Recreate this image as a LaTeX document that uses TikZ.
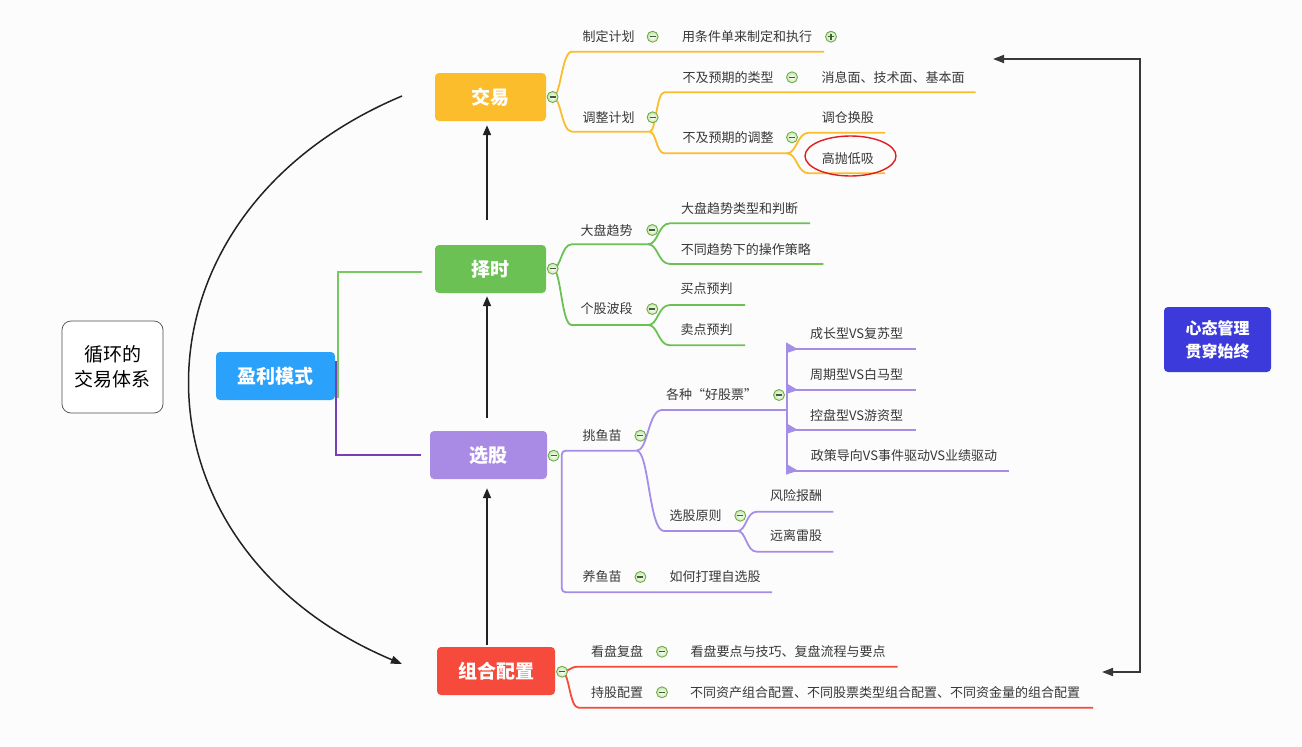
\documentclass[tikz,border=0pt]{standalone}
\usepackage{fontspec}
\setmainfont{Noto Sans CJK SC}
\usetikzlibrary{arrows.meta,calc}
\definecolor{bgc}{RGB}{252,252,252}
\definecolor{cyel}{RGB}{251,189,44}
\definecolor{cgrn}{RGB}{108,193,85}
\definecolor{cpur}{RGB}{169,139,229}
\definecolor{cpurl}{RGB}{165,142,232}
\definecolor{cred}{RGB}{246,75,60}
\definecolor{cblu}{RGB}{42,162,251}
\definecolor{cind}{RGB}{61,58,219}
\definecolor{txt}{RGB}{56,56,56}
\definecolor{togd}{RGB}{104,168,64}
\definecolor{togf}{RGB}{196,230,170}
\definecolor{togl}{RGB}{70,90,60}
\definecolor{linkp}{RGB}{120,62,180}
\definecolor{linkg}{RGB}{118,200,96}
\definecolor{arrc}{RGB}{34,34,34}
\definecolor{ovl}{RGB}{224,30,30}
\begin{document}
\begin{tikzpicture}[x=1pt,y=-1pt,
  mainbox/.style={rounded corners=4pt, inner sep=0pt, text=white,
    font=\fontsize{19pt}{23pt}\selectfont\bfseries},
  leaf/.style={inner sep=0pt, text=txt, font=\fontsize{13pt}{15pt}\selectfont},
  tog/.style={circle, minimum size=11pt, inner sep=0pt, draw=togd, line width=0.8pt,
    inner color=white, outer color=togf,
    path picture={\draw[togl, line width=1.1pt]
      ([xshift=-3pt]path picture bounding box.center) -- ([xshift=3pt]path picture bounding box.center);}},
  togp/.style={tog, path picture={\draw[togl, line width=1.1pt]
      ([xshift=-3pt]path picture bounding box.center) -- ([xshift=3pt]path picture bounding box.center)
      ([yshift=-3pt]path picture bounding box.center) -- ([yshift=3pt]path picture bounding box.center);}},
  br/.style={to path={.. controls ($(\tikztostart)!.45!(\tikztostart -| \tikztotarget)$)
      and ($(\tikztotarget)!.55!(\tikztotarget -| \tikztostart)$) .. (\tikztotarget)}},
  ybr/.style={draw=cyel, line width=1.8pt},
  gbr/.style={draw=cgrn, line width=1.8pt},
  pbr/.style={draw=cpurl, line width=1.8pt},
  rbr/.style={draw=cred, line width=1.8pt},
  marr/.style={draw=arrc, line width=1.8pt, -{Triangle[length=10pt,width=8pt]}},
]
\useasboundingbox (0,0) rectangle (1302,747);
\fill[bgc] (0,0) rectangle (1302,747);

% ---------- branch lines (yellow) ----------
\draw[ybr] (552.6,97) to[br] (572,51.7) -- (824,51.7);
\draw[ybr] (552.6,97) to[br] (572,131.7) -- (649.6,131.7);
\draw[ybr] (649.6,131.7) to[br] (664.4,92.3) -- (975.5,92.3);
\draw[ybr] (649.6,131.7) to[br] (664.4,153.3) -- (787,153.3);
\draw[ybr] (787,153.3) to[br] (809,132.7) -- (885,132.7);
\draw[ybr] (787,153.3) to[br] (809,173.3) -- (885,173.3);

% ---------- branch lines (green) ----------
\draw[gbr] (552.7,268.7) to[br] (571.7,244.3) -- (648.3,244.3);
\draw[gbr] (648.3,244.3) to[br] (670,223.3) -- (810,223.3);
\draw[gbr] (648.3,244.3) to[br] (670,264) -- (823.3,264);
\draw[gbr] (552.7,268.7) to[br] (571.7,325) -- (648.3,325);
\draw[gbr] (648.3,325) to[br] (670,305) -- (745,305);
\draw[gbr] (648.3,325) to[br] (670,345.3) -- (745,345.3);

% ---------- branch lines (purple) ----------
\draw[pbr] (553.6,455.7) -- (558,455.7);
\draw[pbr, rounded corners=4pt] (636.7,450.7) -- (561.7,450.7) -- (561.7,592.3) -- (772,592.3);
\draw[pbr] (636.7,450.7) to[br] (662,410) -- (787.4,410);
\draw[pbr] (636.7,450.7) to[br] (664,531) -- (737.6,531);
\draw[pbr] (737.6,531) to[br] (756.8,511.7) -- (833.3,511.7);
\draw[pbr] (737.6,531) to[br] (756.8,551.7) -- (833.3,551.7);
\draw[pbr] (787,343) -- (787,471.5);
\foreach \yy/\xe in {349.3/915.6, 390/915.6, 430/915.6, 470.7/1009.4}{
  \draw[pbr] (787,\yy) -- (\xe,\yy);
  \fill[cpurl] (786,\yy-7) -- (798,\yy) -- (786,\yy+4) -- cycle;
}

% ---------- branch lines (red) ----------
\draw[rbr] (562,671.7) to[br] (578.5,666.7) -- (897.7,666.7);
\draw[rbr] (562,671.7) to[br] (578.5,707.7) -- (1093,707.7);

% ---------- main nodes ----------
\node[mainbox, fill=cyel, minimum width=111pt, minimum height=48pt] (jiaoyi) at (490.5,97) {交易};
\node[mainbox, fill=cgrn, minimum width=111pt, minimum height=48pt] (zeshi) at (490.5,269) {择时};
\node[mainbox, fill=cpur, minimum width=117pt, minimum height=48pt] (xuangu) at (488.5,455) {选股};
\node[mainbox, fill=cred, minimum width=118pt, minimum height=48pt] (zuhe) at (496,671) {组合配置};
\node[mainbox, fill=cblu, minimum width=119pt, minimum height=48pt] (yingli) at (275.5,376) {盈利模式};
\node[rounded corners=9pt, draw=black!70, line width=0.7pt, fill=white, inner sep=0pt,
  minimum width=101pt, minimum height=92pt, align=center, text=black,
  font=\fontsize{19pt}{25pt}\selectfont] (xunhuan) at (112.5,367) {循环的\\交易体系};
\node[mainbox, fill=cind, minimum width=107pt, minimum height=65pt, align=center,
  font=\fontsize{16pt}{22.7pt}\selectfont\bfseries] (xintai) at (1217.5,339.5) {心态管理\\贯穿始终};

% ---------- toggles ----------
\node[tog] (c1) at (552.6,97) {};
\node[tog] (c2) at (552.7,268.7) {};
\node[tog] (c3) at (553.6,455.7) {};
\node[tog] (c4) at (562,671.7) {};

% ---------- yellow texts ----------
\node[leaf] (t11) at (608.5,36.7) {制定计划};
\node[tog] (c11) at (652.6,36.7) {};
\node[leaf] (t111) at (747,36.7) {用条件单来制定和执行};
\node[togp] (p111) at (831,36.7) {};
\node[leaf] (t12) at (608.5,117.3) {调整计划};
\node[tog] (c12) at (652.6,117.3) {};
\node[leaf] (t121) at (728,77.3) {不及预期的类型};
\node[tog] (c121) at (792,77.3) {};
\node[leaf] (t1211) at (893,77.3) {消息面、技术面、基本面};
\node[leaf] (t122) at (728,137.3) {不及预期的调整};
\node[tog] (c122) at (792,137.3) {};
\node[leaf] (t1221) at (847.8,117.3) {调仓换股};
\node[leaf] (t1222) at (847.8,158.3) {高抛低吸};
\draw[ovl, line width=1.4pt] (t1222.center) ++(2.7,-2.3) ellipse [x radius=45.5pt, y radius=20pt];

% ---------- green texts ----------
\node[leaf] (t21) at (606.7,230) {大盘趋势};
\node[tog] (c21) at (652.3,230) {};
\node[leaf] (t211) at (739.7,208.3) {大盘趋势类型和判断};
\node[leaf] (t212) at (745.8,249.3) {不同趋势下的操作策略};
\node[leaf] (t22) at (606.7,309) {个股波段};
\node[tog] (c22) at (652.3,309) {};
\node[leaf] (t221) at (706.7,289) {买点预判};
\node[leaf] (t222) at (706.7,330) {卖点预判};

% ---------- purple texts ----------
\node[leaf] (t31) at (602,435.7) {挑鱼苗};
\node[tog] (c31) at (640.4,435.7) {};
\node[leaf] (t311) at (711.5,395) {各种“好股票”};
\node[tog] (c311) at (779,395) {};
\node[leaf] (t3111) at (856.6,334) {成长型VS复苏型};
\node[leaf] (t3112) at (856.6,375) {周期型VS白马型};
\node[leaf] (t3113) at (856.6,415.7) {控盘型VS游资型};
\node[leaf] (t3114) at (904,456) {政策导向VS事件驱动VS业绩驱动};
\node[leaf] (t312) at (695.5,515.7) {选股原则};
\node[tog] (c312) at (740.3,515.7) {};
\node[leaf] (t3121) at (796,495.7) {风险报酬};
\node[leaf] (t3122) at (796,536) {远离雷股};
\node[leaf] (t32) at (602,577) {养鱼苗};
\node[tog] (c32) at (640.4,577) {};
\node[leaf] (t321) at (715,577) {如何打理自选股};

% ---------- red texts ----------
\node[leaf] (t41) at (617,651.7) {看盘复盘};
\node[tog] (c41) at (662,651.7) {};
\node[leaf] (t411) at (788,651.7) {看盘要点与技巧、复盘流程与要点};
\node[leaf] (t42) at (617,692.3) {持股配置};
\node[tog] (c42) at (662,692.3) {};
\node[leaf] (t421) at (885,692.3) {不同资产组合配置、不同股票类型组合配置、不同资金量的组合配置};

% ---------- links from 盈利模式 ----------
\coordinate (gEnd) at (422,272);
\coordinate (pEnd) at (421,455);
\draw[linkg, line width=1.5pt] ([shift={(3,-2)}]yingli.south east) |- (gEnd);
\draw[linkp, line width=1.5pt] ([shift={(1,-15)}]yingli.east) |- (pEnd);

% ---------- vertical flow arrows ----------
\coordinate (ax) at (487,0);
\draw[marr, shorten <=25pt, shorten >=4pt] (zeshi.north -| ax) -- (jiaoyi.south -| ax);
\draw[marr, shorten <=13pt, shorten >=3pt] (xuangu.north -| ax) -- (zeshi.south -| ax);
\draw[marr, shorten <=2pt, shorten >=9pt] (zuhe.north -| ax) -- (xuangu.south -| ax);

% ---------- big arc ----------
\coordinate (arcS) at (402,96);
\coordinate (arcE) at (402,664);
\draw[arrc, line width=1.5pt, -{Triangle[length=11pt,width=8pt]}]
  (arcS) .. controls (119,215) and (119,545) .. (arcE);

% ---------- right loop ----------
\coordinate (rTop) at (993,59);
\coordinate (rBot) at (1102,672);
\draw[arrc!90, line width=1.8pt, {Triangle[length=11pt,width=8pt]}-{Triangle[length=11pt,width=8pt]}]
  (rTop) -- (1140,59) -- (1140,672) -- (rBot);
\end{tikzpicture}
\end{document}
